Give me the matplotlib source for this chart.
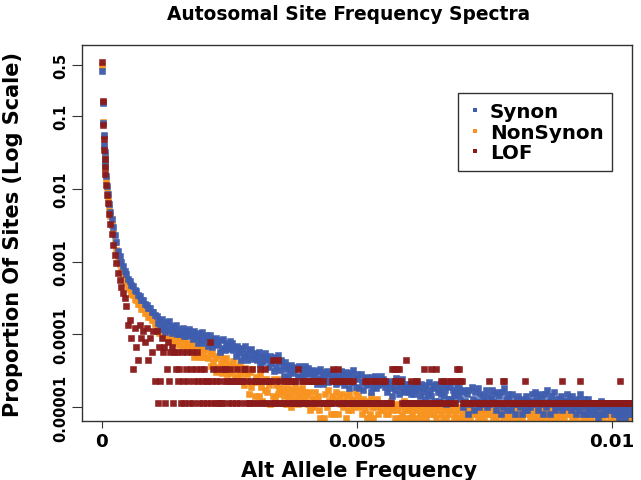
import numpy as np
import matplotlib.pyplot as plt
from matplotlib.lines import Line2D
from matplotlib.ticker import NullLocator

plt.rcParams['font.family'] = ['DejaVu Sans']
plt.rcParams['font.weight'] = 'bold'

# x axis: alternate allele count / number of chromosomes
n_chrom = 121412
lof_total = 89000   # LOF sites, turns LOF counts into proportions

head_counts = [1, 2, 3, 4, 5, 6, 7, 8, 10, 12, 14, 17, 20, 23, 26]
mid_counts = list(range(30, 130, 4))
tail_counts = list(range(130, 1265, 3))

# Synon / NonSynon: proportion of sites, in sites per million
synon_head = [420000, 150000, 80000, 55000, 40000, 32000, 26000, 21000, 15000,
              11000, 8500, 6200, 4800, 3800, 3000]
synon_mid = [2300, 1830, 1400, 1190, 970, 880, 735, 675, 575, 545, 475, 462, 405,
             392, 345, 338, 298, 292, 258, 256, 228, 230, 204, 203, 183]
synon_tail = [
    178, 141, 155, 120, 160, 127, 139, 107, 146, 115, 152, 123, 104, 131, 113, 133, 102, 117, 102, 109,
    104, 121, 95, 110, 96, 104, 118, 99, 107, 86, 110, 91, 99, 77, 104, 84, 108, 90, 76, 97,
    90, 70, 98, 80, 66, 87, 74, 89, 71, 78, 57, 83, 64, 85, 61, 75, 62, 70, 82, 65,
    75, 60, 66, 51, 69, 55, 61, 45, 65, 51, 69, 56, 45, 61, 52, 63, 46, 56, 47, 53,
    45, 57, 39, 50, 41, 47, 56, 44, 49, 36, 51, 40, 45, 31, 48, 36, 52, 41, 32, 45,
    37, 27, 41, 33, 26, 37, 31, 38, 29, 33, 23, 36, 27, 37, 26, 33, 27, 31, 37, 29,
    34, 28, 31, 23, 32, 26, 29, 21, 31, 24, 33, 27, 21, 30, 25, 31, 22, 28, 23, 26,
    24, 31, 21, 27, 22, 26, 31, 24, 28, 20, 30, 23, 26, 18, 29, 22, 32, 25, 19, 28,
    24, 18, 28, 22, 17, 25, 21, 26, 20, 23, 16, 26, 19, 27, 18, 24, 20, 23, 27, 21,
    24, 19, 22, 16, 23, 18, 21, 14, 23, 17, 25, 20, 15, 22, 18, 24, 16, 21, 17, 20,
    16, 21, 15, 19, 15, 18, 22, 17, 19, 14, 21, 16, 18, 13, 20, 15, 22, 17, 14, 20,
    18, 12, 21, 16, 12, 18, 15, 20, 14, 17, 11, 19, 13, 20, 13, 17, 14, 16, 20, 15,
    18, 13, 16, 10, 17, 12, 15, 8, 17, 11, 19, 13, 9, 16, 12, 18, 10, 15, 11, 14,
    12, 17, 10, 14, 11, 13, 17, 12, 15, 9, 16, 11, 14, 8, 16, 10, 18, 13, 9, 15,
    13, 9, 15, 11, 8, 13, 11, 14, 10, 12, 8, 13, 9, 14, 9, 12, 10, 12, 15, 11,
    16, 12, 14, 9, 15, 11, 13, 8, 15, 10, 17, 12, 8, 14, 11, 16, 9, 13, 10, 13,
    11, 14, 9, 12, 10, 12, 15, 11, 13, 9, 14, 10, 12, 8, 13, 9, 15, 11, 8, 13,
    10, 8, 13, 9, 8, 10, 9, 10, 8, 10, 7, 10, 8, 12, 8, 10, 8, 9, 11, 9,
    10, 9, 10, 8, 10, 8, 9, 7, 10, 8, 11, 9, 7, 10, 8, 10, 8, 9, 8,
]

nonsyn_head = [490000, 155000, 82000, 53000, 38000, 30000, 24000, 19500, 13500,
               10000, 7600, 5500, 4200, 3150, 2450]
nonsyn_mid = [1850, 1450, 1090, 925, 750, 680, 565, 522, 440, 420, 362, 352, 308,
              300, 263, 258, 226, 223, 197, 196, 174, 174, 155, 156, 140]
nonsyn_tail = [
    115, 132, 104, 118, 104, 111, 123, 103, 110, 89, 110, 92, 98, 77, 100, 81, 102, 85, 71, 88,
    83, 66, 88, 73, 60, 77, 65, 77, 61, 67, 48, 69, 52, 69, 48, 59, 48, 53, 63, 48,
    62, 47, 53, 37, 55, 41, 47, 30, 50, 35, 54, 40, 29, 45, 35, 47, 28, 39, 29, 35,
    31, 43, 25, 35, 26, 31, 40, 28, 33, 20, 34, 23, 28, 15, 30, 19, 33, 22, 14, 26,
    23, 14, 28, 19, 12, 23, 17, 24, 16, 20, 11, 23, 14, 24, 13, 20, 15, 18, 24, 16,
    18, 14, 16, 11, 18, 13, 15, 10, 17, 12, 19, 14, 11, 17, 14, 18, 12, 16, 13, 15,
    11, 16, 9, 13, 10, 13, 16, 12, 14, 9, 7, 6, 6, 7, 15, 10, 17, 12, 8, 14,
    13, 8, 16, 12, 8, 14, 11, 15, 10, 12, 7, 14, 9, 15, 9, 13, 10, 12, 16, 11,
    14, 10, 12, 8, 13, 9, 11, 7, 12, 8, 14, 10, 7, 12, 10, 13, 8, 11, 9, 11,
    9, 11, 8, 10, 8, 10, 12, 9, 10, 7, 11, 9, 10, 7, 11, 8, 12, 9, 7, 11,
    9, 7, 10, 8, 11, 7, 9, 6, 10, 8, 7, 9, 11, 8, 7, 10, 6, 9, 8, 10,
    8, 10, 7, 9, 6, 11, 8, 7, 10, 9, 7, 8, 10, 6, 9, 11, 7, 8, 9, 7,
    10, 7, 8, 11, 7, 9, 6, 8, 10, 7, 9, 8, 6, 10, 8, 7, 11, 9, 7, 8,
    7, 9, 8, 6, 10, 8, 11, 7, 9, 7, 8, 10, 6, 9, 8, 7, 10, 8, 9, 7,
    8, 10, 7, 9, 6, 8, 10, 7, 11, 8, 7, 9, 8, 6, 10, 9, 7, 8, 10, 7,
    9, 7, 8, 10, 7, 6, 9, 11, 8, 7, 10, 8, 7, 9, 6, 8, 10, 7, 9, 8,
    7, 8, 11, 7, 9, 8, 6, 9, 8, 10, 7, 8, 9, 7, 10, 6, 8, 9, 7, 10,
    8, 7, 9, 8, 10, 7, 8, 6, 9, 8, 7, 10, 8, 9, 7, 8, 6, 9, 10, 8,
    7, 9, 8, 7, 10, 8, 7, 9, 8, 6, 9, 7, 10, 8, 7, 9, 8, 7, 9,
]

# LOF: number of sites at each allele count
lof_head = [49800, 14200, 6700, 4300, 3000, 2300, 1780, 1420, 1000, 730, 560,
            400, 290, 210, 150]
lof_mid = [110, 85, 62, 50, 40, 33, 28, 22, 12, 14, 8, 3, 11, 6, 4, 12, 8, 10,
           7, 11, 4, 8, 5, 10, 2]
lof_tail = [
    10, 1, 6, 2, 8, 5, 6, 1, 3, 7, 2, 5, 6, 1, 5, 3, 5, 2, 3, 1,
    5, 2, 1, 3, 5, 2, 1, 3, 5, 1, 2, 3, 5, 2, 1, 3, 2, 1, 3, 2,
    1, 2, 7, 1, 2, 3, 1, 2, 3, 1, 2, 1, 1, 3, 3, 2, 2, 1, 3, 2,
    1, 2, 2, 1, 3, 2, 1, 2, 2, 3, 3, 1, 2, 1, 1, 2, 3, 1, 2, 2,
    1, 2, 3, 1, 2, 1, 3, 2, 1, 2, 2, 1, 4, 1, 1, 2, 4, 1, 2, 1,
    1, 1, 2, 2, 1, 2, 2, 1, 1, 2, 2, 1, 3, 1, 1, 2, 2, 1, 1, 1,
    2, 2, 1, 2, 2, 1, 1, 2, 2, 2, 1, 1, 2, 1, 1, 1, 1, 1, 1, 2,
    3, 1, 2, 2, 3, 1, 1, 2, 2, 1, 1, 1, 2, 2, 1, 1, 2, 1, 1, 1,
    1, 1, 1, 1, 1, 2, 2, 1, 1, 1, 2, 1, 1, 2, 2, 1, 1, 1, 1, 2,
    2, 2, 1, 1, 1, 1, 1, 3, 3, 2, 2, 3, 3, 2, 2, 1, 1, 1, 4, 1,
    1, 1, 2, 1, 1, 1, 2, 2, 1, 1, 1, 1, 3, 1, 1, 1, 1, 1, 3, 1,
    1, 1, 3, 1, 1, 1, 2, 2, 1, 1, 2, 1, 1, 1, 2, 2, 1, 1, 3, 2,
    3, 2, 2, 1, 1, 1, 1, 0, 1, 1, 1, 1, 0, 1, 1, 1, 1, 0, 1, 1,
    1, 1, 0, 1, 2, 1, 1, 0, 1, 1, 1, 1, 0, 1, 1, 2, 2, 1, 1, 1,
    1, 1, 1, 0, 0, 1, 1, 1, 1, 0, 1, 1, 2, 1, 1, 1, 1, 0, 0, 1,
    1, 1, 1, 0, 1, 1, 0, 1, 1, 1, 1, 0, 1, 1, 0, 1, 1, 1, 1, 0,
    1, 1, 2, 1, 1, 1, 1, 0, 0, 1, 1, 1, 1, 1, 1, 1, 2, 1, 1, 0,
    1, 1, 0, 1, 1, 1, 1, 0, 1, 1, 0, 1, 1, 1, 1, 0, 1, 1, 1, 1,
    1, 0, 1, 1, 0, 1, 1, 1, 2, 1, 1, 1, 1, 0, 1, 1, 1, 1, 1,
]

series_names = ['Synon', 'NonSynon', 'LOF']
series_colors = ['#3F5DAE', '#F7931E', '#8B1A1A']

counts = np.array(head_counts + mid_counts + tail_counts)
alt_freq = counts / n_chrom
synon = np.array(synon_head + synon_mid + synon_tail) / 1e6
nonsyn = np.array(nonsyn_head + nonsyn_mid + nonsyn_tail) / 1e6
lof = np.array(lof_head + lof_mid + lof_tail) / lof_total

fig = plt.figure(figsize=(6.41, 4.81), dpi=100)
ax = fig.add_axes([82 / 641, 1 - 422 / 481, 550 / 641, 376 / 481])

# NonSynon underneath, Synon over it, LOF on top
for i in [1, 0, 2]:
    y = [synon, nonsyn, lof][i]
    keep = y > 0
    ax.plot(alt_freq[keep], y[keep], 's', ms=5.0, mew=0.4,
            color=series_colors[i], alpha=0.97)

ax.set_yscale('log')
ax.set_xlim(-0.000392, 0.010392)
ax.set_ylim(10 ** -5.192, 10 ** -0.024)

ax.set_xticks([0, 0.005, 0.01])
ax.set_xticklabels(['0', '0.005', '0.01'])
ax.set_yticks([0.5, 0.1, 0.01, 0.001, 0.0001, 0.00001])
ax.set_yticklabels(['0.5', '0.1', '0.01', '0.001', '0.0001', '0.00001'],
                   rotation=90, va='center')
ax.yaxis.set_minor_locator(NullLocator())

ax.tick_params(axis='x', length=5, width=0.8, pad=3, labelsize=13.2, color='#333333')
ax.tick_params(axis='y', length=7.2, width=0.8, pad=2.8, labelsize=10.5, color='#333333')
for s in ax.spines.values():
    s.set_color('#333333')
    s.set_linewidth(1.0)

ax.set_title('Autosomal Site Frequency Spectra', fontsize=13.4, fontweight='bold',
             x=0.484, y=1.069, pad=0)
ax.set_xlabel('Alt Allele Frequency', fontsize=15, fontweight='bold')
ax.xaxis.set_label_coords(0.503, -0.104)
ax.set_ylabel('Proportion Of Sites (Log Scale)', fontsize=15, fontweight='bold')
ax.yaxis.set_label_coords(-0.107, 0.4987)

handles = [Line2D([], [], marker='s', ls='none', ms=3.2, mew=0, color=c)
           for c in series_colors]
leg = ax.legend(handles, series_names, loc='upper left',
                bbox_to_anchor=(0.6836, 0.8723), borderaxespad=0,
                prop={'size': 14.3, 'weight': 'bold'}, fancybox=False,
                edgecolor='#333333', framealpha=1, borderpad=0.45,
                handlelength=0.8, handletextpad=0.35, labelspacing=0.08)
leg.get_frame().set_linewidth(1.0)

fig.savefig('out.png', dpi=100)
